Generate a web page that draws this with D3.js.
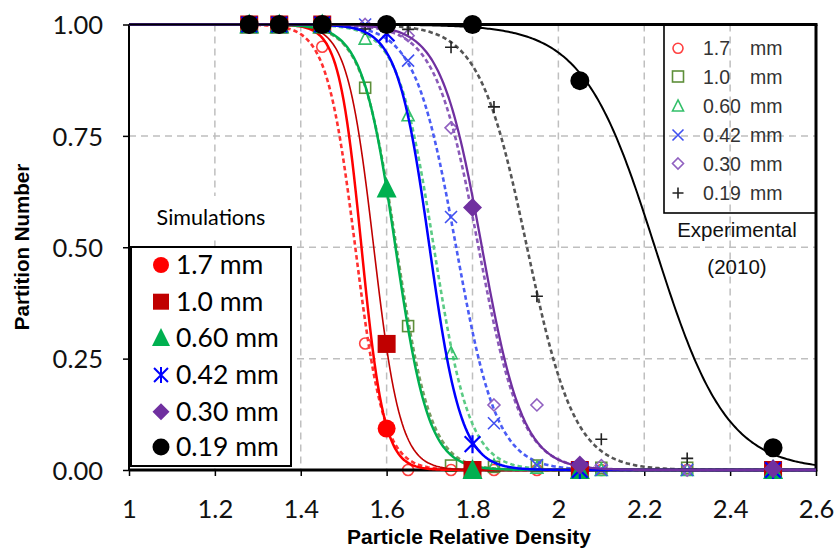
<!DOCTYPE html>
<html><head><meta charset="utf-8">
<script src="https://cdn.jsdelivr.net/npm/d3@7"></script>
<style>body{margin:0;background:#fff}</style>
</head><body><svg id="c" width="837" height="550"></svg>
<script>
// ---------- data ----------
const sizeLabels = ["1.7 mm","1.0 mm","0.60 mm","0.42 mm","0.30 mm","0.19 mm"];
const expNumLabels = ["1.7","1.0","0.60","0.42","0.30","0.19"];

const simDensity = [1.28, 1.35, 1.45, 1.6, 1.8, 2.05, 2.5];
const sim_1_7  = [1, 1, 1, 0.093, 0, 0, 0];
const sim_1_0  = [1, 1, 1, 0.283, 0, 0, 0];
const sim_0_60 = [1, 1, 1, 0.632, 0, 0, 0];
const sim_0_42 = [1, 1, 1, 0.98, 0.058, 0, 0];
const sim_0_30 = [1, 1, 1, 1, 0.589, 0.011, 0.003];
const sim_0_19 = [1, 1, 1, 1, 1, 0.874, 0.05];

const expDensity = [1.28, 1.35, 1.45, 1.55, 1.65, 1.75, 1.85, 1.95, 2.1, 2.3];
const exp_1_7  = [1, 1, 0.95, 0.284, 0, 0, 0, 0, 0, 0];
const exp_1_0  = [1, 1, 1, 0.858, 0.323, 0.01, 0.007, 0.01, 0.005, 0.005];
const exp_0_60 = [1, 1, 1, 0.968, 0.796, 0.262, 0.01, 0.005, 0, 0];
const exp_0_42 = [1, 1, 1, 1, 0.919, 0.568, 0.105, 0.011, 0, 0];
const exp_0_30 = [1, 1, 1, 1, 0.975, 0.768, 0.146, 0.146, 0.01, 0];
const exp_0_19 = [1, 1, 1, 0.99, 0.989, 0.949, 0.815, 0.39, 0.069, 0.026];

// fitted partition-curve parameters (cut density, steepness)
const simCut   = [1.5415, 1.570, 1.6207, 1.700, 1.822, 2.225];
const simSteep = [38, 32.5, 26, 27, 21, 12];
const expCut   = [1.527, 1.623, 1.710, 1.762, 1.814, 1.927];
const expSteep = [30, 25, 24, 21, 20, 18];

const xTickValues = [1, 1.2, 1.4, 1.6, 1.8, 2, 2.2, 2.4, 2.6];
const xTickLabels = ["1","1.2","1.4","1.6","1.8","2","2.2","2.4","2.6"];
const yTickValues = [0, 0.25, 0.5, 0.75, 1];
const yTickLabels = ["0.00","0.25","0.50","0.75","1.00"];

// ---------- styles ----------
const simColors = ["#FF0000","#C00000","#00B050","#0000FF","#7030A0","#000000"];
const simWidths = [2.5, 1.6, 2.5, 2.5, 2.3, 2];
const simShapes = ["circle","square","triangle","asterisk","diamond","circle"];
const expColors = ["#FF4040","#5E8F3A","#33C06A","#4050F0","#9060C0","#222222"];
const expLineColors = ["#FF3030","#7A9A60","#5CCB85","#4A5CF5","#8A5AB8","#555555"];
const expShapes = ["circle","square","triangle","x","diamond","plus"];

const simSeries = [sim_1_7, sim_1_0, sim_0_60, sim_0_42, sim_0_30, sim_0_19];
const expSeries = [exp_1_7, exp_1_0, exp_0_60, exp_0_42, exp_0_30, exp_0_19];

const W = 837, H = 550;
const x = d3.scaleLinear().domain([1, 2.6]).range([129, 816]);
const y = d3.scaleLinear().domain([0, 1]).range([470, 24.5]);

const svg = d3.select("#c");
svg.append("rect").attr("width", W).attr("height", H).attr("fill", "#fff");
svg.append("defs").append("clipPath").attr("id", "clip")
  .append("rect").attr("x", x(1)).attr("y", y(1) - 3).attr("width", x(2.6) - x(1)).attr("height", y(0) - y(1) + 6);

// grid
const grid = svg.append("g");
grid.selectAll("line.v").data(xTickValues.slice(1, -1)).enter().append("line")
  .attr("x1", d => x(d)).attr("x2", d => x(d)).attr("y1", y(1)).attr("y2", y(0))
  .attr("stroke", "#BFBFBF").attr("stroke-width", 1.5).attr("stroke-dasharray", "7,5");
grid.selectAll("line.h").data(yTickValues.slice(1, -1)).enter().append("line")
  .attr("x1", x(1)).attr("x2", x(2.6)).attr("y1", d => y(d)).attr("y2", d => y(d))
  .attr("stroke", "#BFBFBF").attr("stroke-width", 1.5).attr("stroke-dasharray", "7,5");

// axes
const fontTick = "Lato, 'Open Sans', sans-serif";
const xAxis = svg.append("g").attr("transform", `translate(0,${y(0)})`)
  .call(d3.axisBottom(x).tickValues(xTickValues).tickFormat((d, i) => xTickLabels[i]).tickSize(6).tickSizeOuter(0).tickPadding(24));
const yAxis = svg.append("g").attr("transform", `translate(${x(1)},0)`)
  .call(d3.axisLeft(y).tickValues(yTickValues).tickFormat((d, i) => yTickLabels[i]).tickSize(6).tickSizeOuter(0).tickPadding(20));
[xAxis, yAxis].forEach(a => {
  a.select(".domain").remove();
  a.selectAll("line").attr("stroke", "#000").attr("stroke-width", 1.5);
  a.selectAll("text").attr("font-family", fontTick).attr("font-size", 25.5).attr("fill", "#111");
});
yAxis.selectAll("text").attr("dy", "0.36em");

// frame
const frame = svg.append("g");
frame.append("line").attr("x1", x(1)).attr("x2", x(1)).attr("y1", y(1)).attr("y2", y(0)).attr("stroke", "#000").attr("stroke-width", 2);

// legend box for simulations (white)
svg.append("rect").attr("x", 131).attr("y", 196).attr("width", 160).attr("height", 44).attr("fill", "#fff");
svg.append("rect").attr("x", 131).attr("y", 247).attr("width", 160).attr("height", 219)
  .attr("fill", "#fff").attr("stroke", "#000").attr("stroke-width", 2);

// curve helper
const curveX = d3.range(1, 2.6001, 0.004);
const logistic = (d, cut, k) => 1 / (1 + Math.exp(k * (d - cut)));
const line = d3.line().x(d => x(d[0])).y(d => y(d[1]));

const plot = svg.append("g").attr("clip-path", "url(#clip)");

// experimental curves (dashed)
expCut.forEach((c, i) => {
  plot.append("path").attr("d", line(curveX.map(d => [d, logistic(d, c, expSteep[i])])))
    .attr("fill", "none").attr("stroke", expLineColors[i]).attr("stroke-width", 2.6)
    .attr("stroke-dasharray", "4.5,3");
});

// marker drawing
function marker(g, shape, cx, cy, s, fill, stroke, sw) {
  const h = s / 2;
  let el;
  if (shape === "circle") {
    el = g.append("circle").attr("cx", cx).attr("cy", cy).attr("r", h);
  } else if (shape === "square") {
    el = g.append("rect").attr("x", cx - h).attr("y", cy - h).attr("width", s).attr("height", s);
  } else if (shape === "triangle") {
    el = g.append("path").attr("d", `M${cx},${cy - h * 1.1}L${cx + h},${cy + h * 0.9}L${cx - h},${cy + h * 0.9}Z`);
  } else if (shape === "diamond") {
    el = g.append("path").attr("d", `M${cx},${cy - h}L${cx + h},${cy}L${cx},${cy + h}L${cx - h},${cy}Z`);
  } else if (shape === "x") {
    el = g.append("path").attr("d", `M${cx - h},${cy - h}L${cx + h},${cy + h}M${cx + h},${cy - h}L${cx - h},${cy + h}`);
  } else if (shape === "plus") {
    el = g.append("path").attr("d", `M${cx - h},${cy}L${cx + h},${cy}M${cx},${cy - h}L${cx},${cy + h}`);
  } else if (shape === "asterisk") {
    const a = h * 0.87;
    el = g.append("path").attr("d", `M${cx},${cy - h}L${cx},${cy + h}M${cx - a},${cy - a}L${cx + a},${cy + a}M${cx + a},${cy - a}L${cx - a},${cy + a}`);
  }
  el.attr("fill", fill).attr("stroke", stroke).attr("stroke-width", sw);
  return el;
}

// experimental markers (open)
const expG = svg.append("g");
expSeries.forEach((vals, i) => {
  vals.forEach((v, j) => {
    const sz = expShapes[i] === "circle" ? 11 : expShapes[i] === "square" ? 11 : 12;
    marker(expG, expShapes[i], x(expDensity[j]), y(v), sz, "none", expColors[i], 1.6);
  });
});

// bottom/top/right frame lines
svg.append("line").attr("x1", x(1)).attr("x2", x(2.6)).attr("y1", y(0)).attr("y2", y(0)).attr("stroke", "#000").attr("stroke-width", 3);
svg.append("line").attr("x1", x(1)).attr("x2", x(2.6) + 1.5).attr("y1", y(1)).attr("y2", y(1)).attr("stroke", "#000").attr("stroke-width", 3);
svg.append("line").attr("x1", x(2.6)).attr("x2", x(2.6)).attr("y1", y(1)).attr("y2", y(0) + 1.5).attr("stroke", "#000").attr("stroke-width", 3);

// simulation curves (solid)
const plot2 = svg.append("g").attr("clip-path", "url(#clip)");
simCut.forEach((c, i) => {
  plot2.append("path").attr("d", line(curveX.map(d => [d, logistic(d, c, simSteep[i])])))
    .attr("fill", "none").attr("stroke", simColors[i]).attr("stroke-width", simWidths[i]);
});

// simulation markers (filled)
const simG = svg.append("g");
const simSizes = [18, 18, 20, 18, 19, 19];
simSeries.forEach((vals, i) => {
  vals.forEach((v, j) => {
    const shp = simShapes[i];
    if (shp === "asterisk") marker(simG, shp, x(simDensity[j]), y(v), simSizes[i], "none", simColors[i], 2.2);
    else marker(simG, shp, x(simDensity[j]), y(v), simSizes[i], simColors[i], "none", 0);
  });
});

// ---------- legends ----------
svg.append("text").attr("x", 211).attr("y", 225).attr("text-anchor", "middle")
  .attr("font-family", fontTick).attr("font-size", 21.5).attr("fill", "#000").text("Simulations");
const simRowY = [265, 301.7, 338, 375, 411.7, 447];
sizeLabels.forEach((lab, i) => {
  const shp = simShapes[i];
  const sz = [16, 16, 18, 16, 17, 17][i];
  if (shp === "asterisk") marker(svg, shp, 161, simRowY[i], sz, "none", simColors[i], 2);
  else marker(svg, shp, 161, simRowY[i], sz, simColors[i], "none", 0);
  svg.append("text").attr("x", 176).attr("y", simRowY[i] + 9).attr("font-family", fontTick)
    .attr("font-size", 26.5).attr("fill", "#000").text(lab);
});

const expFont = "'Liberation Sans', Arial, sans-serif";
svg.append("rect").attr("x", 664).attr("y", y(1)).attr("width", x(2.6) - 664).attr("height", 213 - y(1))
  .attr("fill", "none").attr("stroke", "#000").attr("stroke-width", 1.6);
const expRowY = [48.3, 76.5, 106, 135, 163.5, 193];
expNumLabels.forEach((lab, i) => {
  marker(svg, expShapes[i], 678, expRowY[i], i === 0 ? 10 : 11, "none", expColors[i], 1.6);
  svg.append("text").attr("x", 703).attr("y", expRowY[i] + 7).attr("font-family", expFont)
    .attr("font-size", 19.5).attr("fill", "#333").text(lab);
  svg.append("text").attr("x", 750).attr("y", expRowY[i] + 7).attr("font-family", expFont)
    .attr("font-size", 19.5).attr("fill", "#333").text("mm");
});
svg.append("text").attr("x", 737).attr("y", 237).attr("text-anchor", "middle").attr("font-family", expFont)
  .attr("font-size", 20.5).attr("fill", "#111").text("Experimental");
svg.append("text").attr("x", 737).attr("y", 274).attr("text-anchor", "middle").attr("font-family", expFont)
  .attr("font-size", 20.5).attr("fill", "#111").text("(2010)");

// axis titles
svg.append("text").attr("x", 469).attr("y", 544).attr("text-anchor", "middle")
  .attr("font-family", expFont).attr("font-weight", "bold").attr("font-size", 21).attr("fill", "#000")
  .text("Particle Relative Density");
svg.append("text").attr("transform", "translate(29,247) rotate(-90)").attr("text-anchor", "middle")
  .attr("font-family", expFont).attr("font-weight", "bold").attr("font-size", 20.5).attr("fill", "#000")
  .text("Partition Number");
</script></body></html>
